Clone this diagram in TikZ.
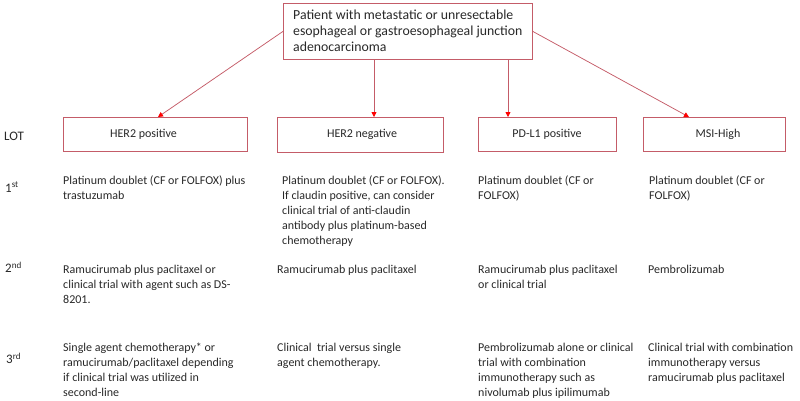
\documentclass[tikz,border=0pt]{standalone}
\usepackage{fontspec}
\setmainfont{Carlito}
\usetikzlibrary{arrows.meta,calc}
\definecolor{boxc}{RGB}{196,92,104}
\definecolor{txtc}{RGB}{40,40,40}
\tikzset{
  box/.style={draw=boxc, line width=0.75pt, anchor=north west, inner sep=0pt},
  txt/.style={anchor=north west, inner sep=0pt, align=left, text=txtc, font=\fontsize{12}{15}\selectfont},
  rowlab/.style={anchor=north west, inner sep=0pt, text=txtc, font=\fontsize{13}{15}\selectfont},
  boxlab/.style={anchor=center, inner sep=0pt, text=txtc, font=\fontsize{12}{15}\selectfont},
  arr/.style={draw=boxc, line width=0.75pt, -{Triangle[length=5pt,width=5pt,color=red]}}
}
\begin{document}
\begin{tikzpicture}[x=1pt,y=-1pt]
\useasboundingbox (0,0) rectangle (800,400);
% top box
\node[box, minimum width=249pt, minimum height=56pt] (top) at (283,3) {};
\node[anchor=north west, inner sep=0pt, align=left, text=txtc, font=\fontsize{13.8}{16}\selectfont] (toptxt) at (293,7.8)
  {\strut Patient with metastatic or unresectable\\esophageal or gastroesophageal junction\\adenocarcinoma};
% category boxes
\node[box, minimum width=184pt, minimum height=34pt] (hp) at (63,117) {};
\node[box, minimum width=166pt, minimum height=35pt] (hn) at (277,117) {};
\node[box, minimum width=138pt, minimum height=34pt] (pd) at (478,117) {};
\node[box, minimum width=142pt, minimum height=34pt] (msi) at (643,117) {};
\node[boxlab] (hpl) at (143.5,134) {HER2 positive};
\node[boxlab] (hnl) at (362,134) {HER2 negative};
\node[boxlab] (pdl) at (547,134) {PD-L1 positive};
\node[boxlab] (msil) at (718,134) {MSI-High};
% arrow targets
\coordinate (thp) at ($(hp.north west)+(95,0)$);
\coordinate (thn) at ($(hn.north west)+(97,0)$);
\coordinate (tpd) at ($(pd.north west)+(30,0)$);
\coordinate (tmsi) at ($(msi.north west)+(46,0)$);
\draw[arr] (top.west) -- (thp);
\draw[arr] (top.south -| thn) -- (thn);
\draw[arr] (top.south -| tpd) -- (tpd);
\draw[arr] (top.east) -- (tmsi);
% row labels
\node[rowlab] (lot) at (4,129.5) {\strut LOT};
\node[rowlab] (r1) at (5,181.5) {\strut 1\textsuperscript{st}};
\node[rowlab] (r2) at (5,261.5) {\strut 2\textsuperscript{nd}};
\node[rowlab] (r3) at (6,352.5) {\strut 3\textsuperscript{rd}};
% row 1
\node[txt] (a1) at (63,173.5) {\strut Platinum doublet (CF or FOLFOX) plus\\trastuzumab};
\node[txt] (b1) at (282,173.5) {\strut Platinum doublet (CF or FOLFOX).\\If claudin positive, can consider\\clinical trial of anti-claudin\\antibody plus platinum-based\\chemotherapy};
\node[txt] (c1) at (478,173.5) {\strut Platinum doublet (CF or\\FOLFOX)};
\node[txt] (d1) at (649,173.5) {\strut Platinum doublet (CF or\\FOLFOX)};
% row 2
\node[txt] (a2) at (63,262.5) {\strut Ramucirumab plus paclitaxel or\\clinical trial with agent such as DS-\\8201.};
\node[txt] (b2) at (277,262.5) {\strut Ramucirumab plus paclitaxel};
\node[txt] (c2) at (478,262.5) {\strut Ramucirumab plus paclitaxel\\or clinical trial};
\node[txt] (d2) at (648,262.5) {\strut Pembrolizumab};
% row 3
\node[txt] (a3) at (63,340.5) {\strut Single agent chemotherapy* or\\ramucirumab/paclitaxel depending\\if clinical trial was utilized in\\second-line};
\node[txt] (b3) at (277,340.5) {\strut Clinical\ \ trial versus single\\agent chemotherapy.};
\node[txt] (c3) at (478,340.5) {\strut Pembrolizumab alone or clinical\\trial with combination\\immunotherapy such as\\nivolumab plus ipilimumab};
\node[txt] (d3) at (648,340.5) {\strut Clinical trial with combination\\immunotherapy versus\\ramucirumab plus paclitaxel};
\end{tikzpicture}
\end{document}
